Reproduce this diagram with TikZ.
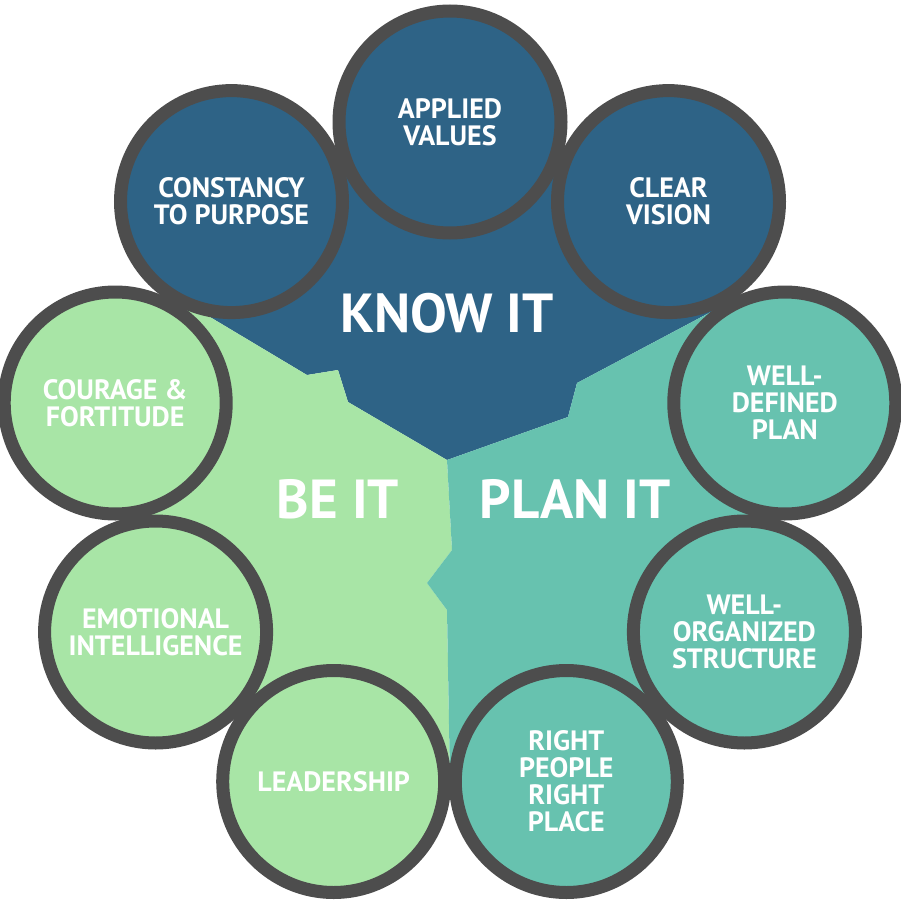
\documentclass[tikz,border=0pt]{standalone}
\usepackage{fontspec}
\setmainfont{PT Sans}
\usepackage{tikz}
\usetikzlibrary{positioning}
\usepackage{xcolor}
\definecolor{knowBlue}{HTML}{2E6386}
\definecolor{beGreen}{HTML}{A8E5A6}
\definecolor{planTeal}{HTML}{67C2AF}
\definecolor{ringGray}{HTML}{4D4D4D}

\begin{document}
\begin{tikzpicture}[
    x=1pt, y=-1pt,
    bubble/.style={circle, minimum size=222pt, draw=ringGray, line width=13pt,
        align=center, text=white, font=\fontsize{28}{27}\selectfont\bfseries},
    knowbubble/.style={bubble, fill=knowBlue},
    bebubble/.style={bubble, fill=beGreen},
    planbubble/.style={bubble, fill=planTeal},
    title/.style={text=white, font=\fontsize{55}{55}\selectfont\bfseries},
]
    \useasboundingbox (0,0) rectangle (900,902);

    % Regions
    \fill[knowBlue] (447,460) -- (348,402) -- (338,370) -- (307,375) -- (176.5,297)
        -- (231.5,201.6) -- (450,122) -- (668.5,201.6) -- (727.2,303.3)
        -- (577,383) -- (568,417) -- cycle;
    \fill[beGreen] (447,460) -- (348,402) -- (338,370) -- (307,375) -- (176.5,297)
        -- (115.2,403) -- (155.6,632) -- (333.7,781.5) -- (450,781.5)
        -- (447,610) -- (427,583) -- (452,550) -- cycle;
    \fill[planTeal] (447,460) -- (568,417) -- (577,383) -- (727.2,303.3)
        -- (784.8,403) -- (744.4,632) -- (566.3,781.5) -- (450,781.5)
        -- (447,610) -- (427,583) -- (452,550) -- cycle;

    % Titles
    \node[title] (know) at (447,313) {KNOW IT};
    \node[title] (be) at (338,499) {BE IT};
    \node[title] (plan) at (575,499) {PLAN IT};

    % Know it
    \node[knowbubble] (applied) at (450,122) {APPLIED\\VALUES};
    \node[knowbubble] (constancy) at (231.5,201.6) {CONSTANCY\\TO PURPOSE};
    \node[knowbubble] (vision) at (668.5,201.6) {CLEAR\\VISION};

    % Be it
    \node[bebubble] (courage) at (115.2,403) {COURAGE \&\\FORTITUDE};
    \node[bebubble] (emotional) at (155.6,632) {EMOTIONAL\\INTELLIGENCE};
    \node[bebubble] (leadership) at (333.7,781.5) {LEADERSHIP};

    % Plan it
    \node[planbubble] (defined) at (784.8,403) {WELL-\\DEFINED\\PLAN};
    \node[planbubble] (organized) at (744.4,632) {WELL-\\ORGANIZED\\STRUCTURE};
    \node[planbubble] (people) at (566.3,781.5) {RIGHT\\PEOPLE\\RIGHT\\PLACE};
\end{tikzpicture}
\end{document}
